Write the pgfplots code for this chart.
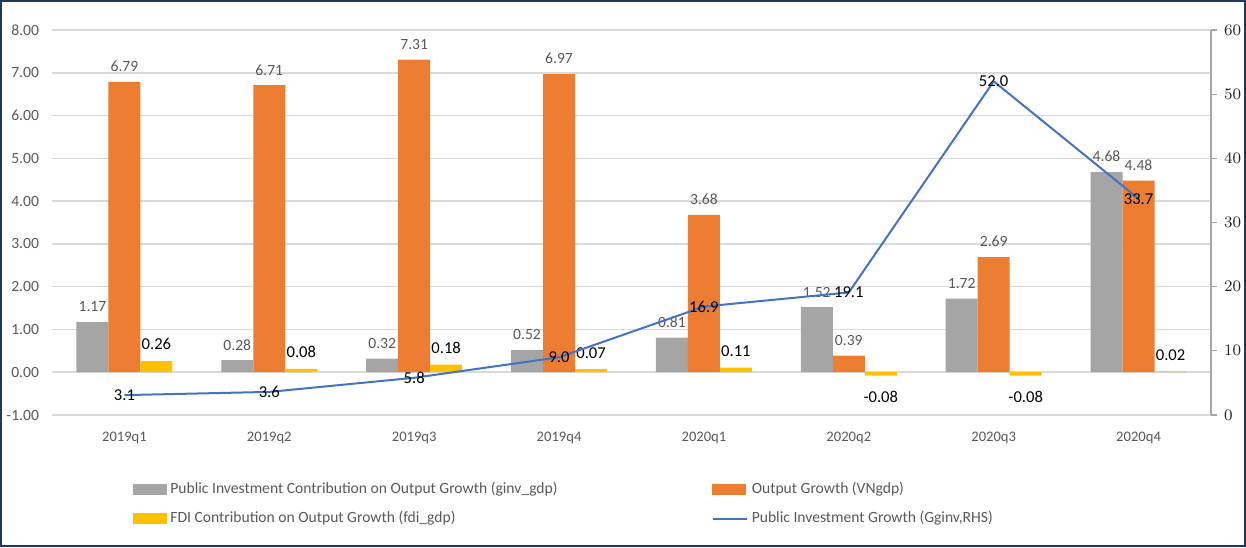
\documentclass[border=0pt]{standalone}
\usepackage{fontspec}
\setmainfont{Carlito}
\usepackage{pgfplots}
\pgfplotsset{compat=1.18}
\definecolor{cgray}{HTML}{A5A5A5}
\definecolor{corange}{HTML}{ED7D31}
\definecolor{cyellow}{HTML}{FFC000}
\definecolor{cblue}{HTML}{4472C4}
\definecolor{cgrid}{HTML}{D9D9D9}
\definecolor{cframe}{HTML}{203864}
\definecolor{ctext}{HTML}{595959}
\definecolor{caxis}{HTML}{A6A6A6}
\begin{document}
\begin{tikzpicture}
\useasboundingbox (0,0) rectangle (623pt,273.5pt);
\begin{axis}[
  at={(26pt,66pt)}, anchor=south west,
  scale only axis, width=579.5pt, height=192.5pt,
  xmin=-0.5, xmax=7.5, ymin=-1, ymax=8,
  ytick={-1,0,...,8},
  xtick={0,...,7},
  xticklabels={2019q1,2019q2,2019q3,2019q4,2020q1,2020q2,2020q3,2020q4},
  axis line style={draw=none},
  major tick length=0pt,
  ymajorgrids, grid style={cgrid, line width=0.8pt},
  yticklabel={\pgfmathprintnumber[fixed,fixed zerofill,precision=2,assume math mode=true]{\tick}},
  yticklabel style={font=\fontsize{7.8}{9}\selectfont, text=ctext, xshift=-3pt},
  xticklabel style={font=\fontsize{7.3}{8}\selectfont, text=ctext, yshift=-5pt},
  clip=false,
]
\addplot[ybar, bar width=16pt, bar shift=-16pt, fill=cgray, draw=none,
  nodes near coords={\pgfmathprintnumber[fixed,fixed zerofill,precision=2,assume math mode=true]{\pgfplotspointmeta}},
  nodes near coords style={font=\fontsize{7.8}{9}\selectfont, text=ctext, yshift=1.5pt, xshift=-16pt}]
  coordinates {(0,1.17) (1,0.28) (2,0.32) (3,0.52) (4,0.81) (5,1.52) (6,1.72) (7,4.68)};
\addplot[ybar, bar width=16pt, bar shift=0pt, fill=corange, draw=none,
  nodes near coords={\pgfmathprintnumber[fixed,fixed zerofill,precision=2,assume math mode=true]{\pgfplotspointmeta}},
  nodes near coords style={font=\fontsize{7.8}{9}\selectfont, text=ctext, yshift=1.5pt}]
  coordinates {(0,6.79) (1,6.71) (2,7.31) (3,6.97) (4,3.68) (5,0.39) (6,2.69) (7,4.48)};
\addplot[ybar, bar width=16pt, bar shift=16pt, fill=cyellow, draw=none,
  nodes near coords={\pgfmathprintnumber[fixed,fixed zerofill,precision=2,assume math mode=true]{\pgfplotspointmeta}},
  nodes near coords style={font=\fontsize{8.3}{9}\selectfont, text=black, xshift=16pt, yshift=2pt}]
  coordinates {(0,0.26) (1,0.08) (2,0.18) (3,0.07) (4,0.11) (7,0.02)};
\addplot[ybar, bar width=16pt, bar shift=16pt, fill=cyellow, draw=none,
  nodes near coords={\pgfmathprintnumber[fixed,fixed zerofill,precision=2,assume math mode=true]{\pgfplotspointmeta}},
  nodes near coords style={font=\fontsize{8.3}{9}\selectfont, text=black, xshift=16pt, yshift=-4pt}]
  coordinates {(5,-0.08) (6,-0.08)};
\end{axis}
\begin{axis}[
  at={(26pt,66pt)}, anchor=south west,
  scale only axis, width=579.5pt, height=192.5pt,
  xmin=-0.5, xmax=7.5, ymin=0, ymax=60,
  axis y line*=right, axis x line=none,
  ytick={0,10,...,60},
  tick align=outside, major tick length=3pt,
  y axis line style={draw=caxis, line width=0.6pt},
  ytick style={draw=caxis, line width=0.6pt},
  yticklabel style={font=\fontsize{8}{9}\selectfont, text=black!85},
  clip=false,
  legend style={at={(0.064,-0.152)}, anchor=north west, draw=none, fill=none,
    font=\fontsize{7.8}{9}\selectfont, text=ctext,
    /tikz/every even column/.append style={column sep=75pt},
    row sep=3.5pt},
  legend cell align=left,
  legend columns=2,
]
\addlegendimage{legend image code/.code={\fill[cgray] (0pt,-2.5pt) rectangle (16.5pt,2.5pt);}}
\addlegendentry{Public Investment Contribution on Output Growth (ginv\_gdp)}
\addlegendimage{legend image code/.code={\fill[corange] (0pt,-2.5pt) rectangle (16.5pt,2.5pt);}}
\addlegendentry{Output Growth (VNgdp)}
\addlegendimage{legend image code/.code={\fill[cyellow] (0pt,-2.5pt) rectangle (16.5pt,2.5pt);}}
\addlegendentry{FDI Contribution on Output Growth (fdi\_gdp)}
\addplot[cblue, line width=1pt,
  nodes near coords={\pgfmathprintnumber[fixed,fixed zerofill,precision=1,assume math mode=true]{\pgfplotspointmeta}},
  nodes near coords align={center},
  nodes near coords style={font=\fontsize{8.3}{9}\selectfont, text=black}]
  coordinates {(0,3.1) (1,3.6) (2,5.8) (3,9.0) (4,16.9) (5,19.1) (6,52.0) (7,33.7)};
\addlegendentry{Public Investment Growth (Gginv,RHS)}
\end{axis}
\draw[cframe, line width=1pt] (0.5pt,0.5pt) rectangle (622.5pt,273pt);
\end{tikzpicture}
\end{document}
